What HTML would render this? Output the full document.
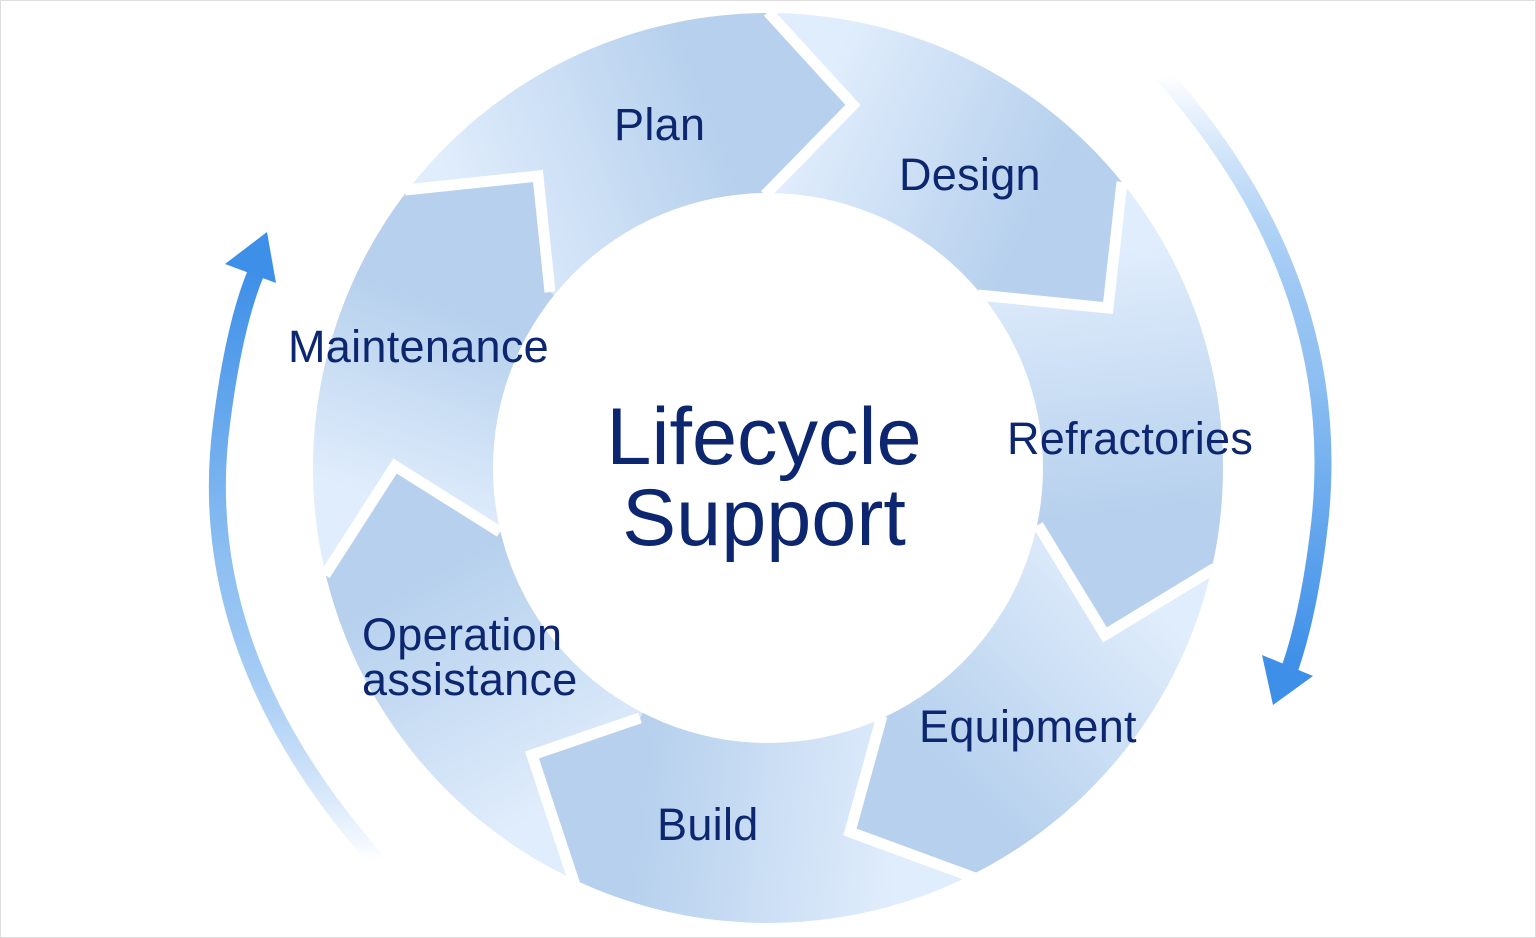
<!DOCTYPE html>
<html><head><meta charset="utf-8"><style>
html,body{margin:0;padding:0;background:#fff;width:1536px;height:938px;overflow:hidden}
#w{position:relative;width:1534px;height:936px;border:1px solid #ddd;overflow:hidden;background:#fff}
svg{position:absolute;left:-1px;top:-1px;display:block}
.t{position:absolute;font-family:"Liberation Sans",sans-serif;color:#0c2670;font-size:45px;line-height:46px;white-space:nowrap;letter-spacing:0.3px}
</style></head><body><div id="w">
<svg width="1536" height="938">
<defs>
<clipPath id="cc"><circle cx="768" cy="468" r="455"/></clipPath>
<linearGradient id="g0" gradientUnits="userSpaceOnUse" x1="470" y1="240" x2="810" y2="110"><stop offset="0" stop-color="#e0edfc"/><stop offset="0.75" stop-color="#b6d0ed"/></linearGradient>
<linearGradient id="g1" gradientUnits="userSpaceOnUse" x1="810" y1="110" x2="1110" y2="250"><stop offset="0" stop-color="#e0edfc"/><stop offset="0.75" stop-color="#b6d0ed"/></linearGradient>
<linearGradient id="g2" gradientUnits="userSpaceOnUse" x1="1110" y1="250" x2="1150" y2="600"><stop offset="0" stop-color="#e0edfc"/><stop offset="0.75" stop-color="#b6d0ed"/></linearGradient>
<linearGradient id="g3" gradientUnits="userSpaceOnUse" x1="1150" y1="600" x2="900" y2="850"><stop offset="0" stop-color="#e0edfc"/><stop offset="0.75" stop-color="#b6d0ed"/></linearGradient>
<linearGradient id="g4" gradientUnits="userSpaceOnUse" x1="900" y1="850" x2="550" y2="810"><stop offset="0" stop-color="#e0edfc"/><stop offset="0.75" stop-color="#b6d0ed"/></linearGradient>
<linearGradient id="g5" gradientUnits="userSpaceOnUse" x1="550" y1="810" x2="380" y2="500"><stop offset="0" stop-color="#e0edfc"/><stop offset="0.75" stop-color="#b6d0ed"/></linearGradient>
<linearGradient id="g6" gradientUnits="userSpaceOnUse" x1="380" y1="500" x2="470" y2="240"><stop offset="0" stop-color="#e0edfc"/><stop offset="0.75" stop-color="#b6d0ed"/></linearGradient>
<linearGradient id="gl" x1="0" y1="1" x2="0" y2="0"><stop offset="0" stop-color="#3d8fe8" stop-opacity="0"/><stop offset="0.5" stop-color="#8fc0f2"/><stop offset="1" stop-color="#3d8fe8"/></linearGradient>
<linearGradient id="gr" x1="0" y1="0" x2="0" y2="1"><stop offset="0" stop-color="#3d8fe8" stop-opacity="0"/><stop offset="0.5" stop-color="#8fc0f2"/><stop offset="1" stop-color="#3d8fe8"/></linearGradient>
</defs>
<g clip-path="url(#cc)" stroke="none">
<polygon fill="url(#g0)" points="768,468 550,292 538,176 405,190 296,107 768,2 768,12 853,105 765,195"/>
<polygon fill="url(#g1)" points="768,468 765,195 853,105 768,12 768,2 1228,96 1122,182 1108,308 978,295"/>
<polygon fill="url(#g2)" points="768,468 978,295 1108,308 1122,182 1228,96 1349,598 1215,568 1105,635 1038,525"/>
<polygon fill="url(#g3)" points="768,468 1038,525 1105,635 1215,568 1349,598 1037,935 975,878 850,832 882,716"/>
<polygon fill="url(#g4)" points="768,468 882,716 850,832 975,878 1037,935 517,935 575,885 532,755 640,718"/>
<polygon fill="url(#g5)" points="768,468 640,718 532,755 575,885 517,935 192,607 325,575 395,466 500,532"/>
<polygon fill="url(#g6)" points="768,468 500,532 395,466 325,575 192,607 296,107 405,190 538,176 550,292"/>
</g>
<circle cx="768" cy="468" r="275" fill="#fff"/>
<g fill="none" stroke="#fff" stroke-width="11" stroke-linejoin="miter">
<polyline points="765,195 853,105 768,12"/>
<polyline points="978,295 1108,308 1122,182"/>
<polyline points="1038,525 1105,635 1215,568"/>
<polyline points="882,716 850,832 975,878"/>
<polyline points="640,718 532,755 575,885"/>
<polyline points="500,532 395,466 325,575"/>
<polyline points="550,292 538,176 405,190"/>
</g>
<path d="M378,862 Q190,650 222,420 Q235,320 258,268" fill="none" stroke="url(#gl)" stroke-width="17"/>
<polygon points="267,232 225,264 276,283" fill="#3d8fe8"/>
<path d="M1163,75 Q1345,280 1320,520 Q1310,610 1290,668" fill="none" stroke="url(#gr)" stroke-width="17"/>
<polygon points="1273,705 1262,655 1313,676" fill="#3d8fe8"/>
</svg>
<div class="t" style="left:613px;top:101px">Plan</div>
<div class="t" style="left:898px;top:151px">Design</div>
<div class="t" style="left:1006px;top:415px">Refractories</div>
<div class="t" style="left:918px;top:703px">Equipment</div>
<div class="t" style="left:656px;top:801px">Build</div>
<div class="t" style="left:361px;top:611px">Operation</div>
<div class="t" style="left:361px;top:656px">assistance</div>
<div class="t" style="left:287px;top:323px">Maintenance</div>
<div class="t" style="left:561px;top:396px;font-size:81px;line-height:81px;text-align:center;width:404px;letter-spacing:0">Lifecycle<br>Support</div>
</div></body></html>
